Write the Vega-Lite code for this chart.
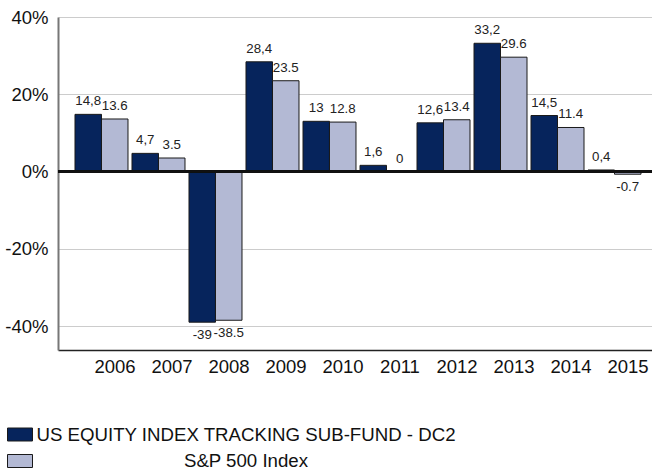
{
  "$schema": "https://vega.github.io/schema/vega-lite/v6.json",
  "autosize": {"type": "none"},
  "width": 600,
  "height": 333,
  "padding": {"left": 58, "top": 17, "right": 0, "bottom": 122},
  "background": "white",
  "config": {
    "view": {"stroke": null},
    "font": "Liberation Sans"
  },
  "data": {
    "values": [
      {"year": "2006", "series": "US EQUITY INDEX TRACKING SUB-FUND - DC2", "value": 14.8, "label": "14,8"},
      {"year": "2006", "series": "S&P 500 Index", "value": 13.6, "label": "13.6"},
      {"year": "2007", "series": "US EQUITY INDEX TRACKING SUB-FUND - DC2", "value": 4.7, "label": "4,7"},
      {"year": "2007", "series": "S&P 500 Index", "value": 3.5, "label": "3.5"},
      {"year": "2008", "series": "US EQUITY INDEX TRACKING SUB-FUND - DC2", "value": -39, "label": "-39"},
      {"year": "2008", "series": "S&P 500 Index", "value": -38.5, "label": "-38.5"},
      {"year": "2009", "series": "US EQUITY INDEX TRACKING SUB-FUND - DC2", "value": 28.4, "label": "28,4"},
      {"year": "2009", "series": "S&P 500 Index", "value": 23.5, "label": "23.5"},
      {"year": "2010", "series": "US EQUITY INDEX TRACKING SUB-FUND - DC2", "value": 13, "label": "13"},
      {"year": "2010", "series": "S&P 500 Index", "value": 12.8, "label": "12.8"},
      {"year": "2011", "series": "US EQUITY INDEX TRACKING SUB-FUND - DC2", "value": 1.6, "label": "1,6"},
      {"year": "2011", "series": "S&P 500 Index", "value": 0, "label": "0"},
      {"year": "2012", "series": "US EQUITY INDEX TRACKING SUB-FUND - DC2", "value": 12.6, "label": "12,6"},
      {"year": "2012", "series": "S&P 500 Index", "value": 13.4, "label": "13.4"},
      {"year": "2013", "series": "US EQUITY INDEX TRACKING SUB-FUND - DC2", "value": 33.2, "label": "33,2"},
      {"year": "2013", "series": "S&P 500 Index", "value": 29.6, "label": "29.6"},
      {"year": "2014", "series": "US EQUITY INDEX TRACKING SUB-FUND - DC2", "value": 14.5, "label": "14,5"},
      {"year": "2014", "series": "S&P 500 Index", "value": 11.4, "label": "11.4"},
      {"year": "2015", "series": "US EQUITY INDEX TRACKING SUB-FUND - DC2", "value": 0.4, "label": "0,4"},
      {"year": "2015", "series": "S&P 500 Index", "value": -0.7, "label": "-0.7"}
    ]
  },
  "encoding": {
    "x": {
      "field": "year", "type": "nominal",
      "scale": {"paddingInner": 0.0702, "paddingOuter": 0.2982},
      "axis": {
        "title": null, "labelAngle": 0, "labelFontSize": 18.5, "labelColor": "#111",
        "labelOffset": 13.5, "labelPadding": 7, "ticks": false,
        "domainColor": "#222", "domainWidth": 1.5, "grid": false
      }
    },
    "xOffset": {
      "field": "series", "type": "nominal",
      "sort": ["US EQUITY INDEX TRACKING SUB-FUND - DC2", "S&P 500 Index"],
      "scale": {"paddingInner": 0, "paddingOuter": 0}
    },
    "y": {
      "field": "value", "type": "quantitative",
      "scale": {"domain": [-46.2, 40], "nice": false, "zero": false},
      "axis": {
        "title": null, "values": [-40, -20, 0, 20, 40],
        "labelExpr": "datum.value + '%'",
        "labelFontSize": 18.5, "labelColor": "#111", "labelPadding": 10,
        "ticks": false, "grid": true, "gridColor": "#cccccc", "gridWidth": 1,
        "domainColor": "#777777", "domainWidth": 2
      }
    }
  },
  "layer": [
    {
      "mark": {"type": "bar", "stroke": "#1a1a1a", "strokeWidth": 1},
      "encoding": {
        "y2": {"datum": 0},
        "color": {
          "field": "series", "type": "nominal",
          "sort": ["US EQUITY INDEX TRACKING SUB-FUND - DC2", "S&P 500 Index"],
          "scale": {
            "domain": ["US EQUITY INDEX TRACKING SUB-FUND - DC2", "S&P 500 Index"],
            "range": ["#06245c", "#b3b9d4"]
          },
          "legend": {
            "title": null, "orient": "none", "legendX": -51, "legendY": 404.5,
            "padding": 0, "direction": "vertical",
            "symbolType": "M-1,-0.52H1V0.52H-1Z", "symbolSize": 625,
            "symbolStrokeColor": "#1a1a1a", "symbolStrokeWidth": 1, "symbolOpacity": 1,
            "labelFontSize": 18.67, "labelColor": "#111", "labelLimit": 0,
            "labelAlign": "center", "labelOffset": 213, "rowPadding": 3.5
          }
        }
      }
    },
    {
      "mark": {"type": "rule", "color": "#111", "strokeWidth": 1.5},
      "encoding": {"y": {"datum": 0}, "x": null, "xOffset": null}
    },
    {
      "transform": [{"filter": "datum.value >= 0"}],
      "mark": {"type": "text", "fontSize": 13.3, "color": "#222", "baseline": "alphabetic", "dy": -9},
      "encoding": {"text": {"field": "label"}}
    },
    {
      "transform": [{"filter": "datum.value < 0"}],
      "mark": {"type": "text", "fontSize": 13.3, "color": "#222", "baseline": "alphabetic", "dy": 17},
      "encoding": {"text": {"field": "label"}}
    }
  ]
}
